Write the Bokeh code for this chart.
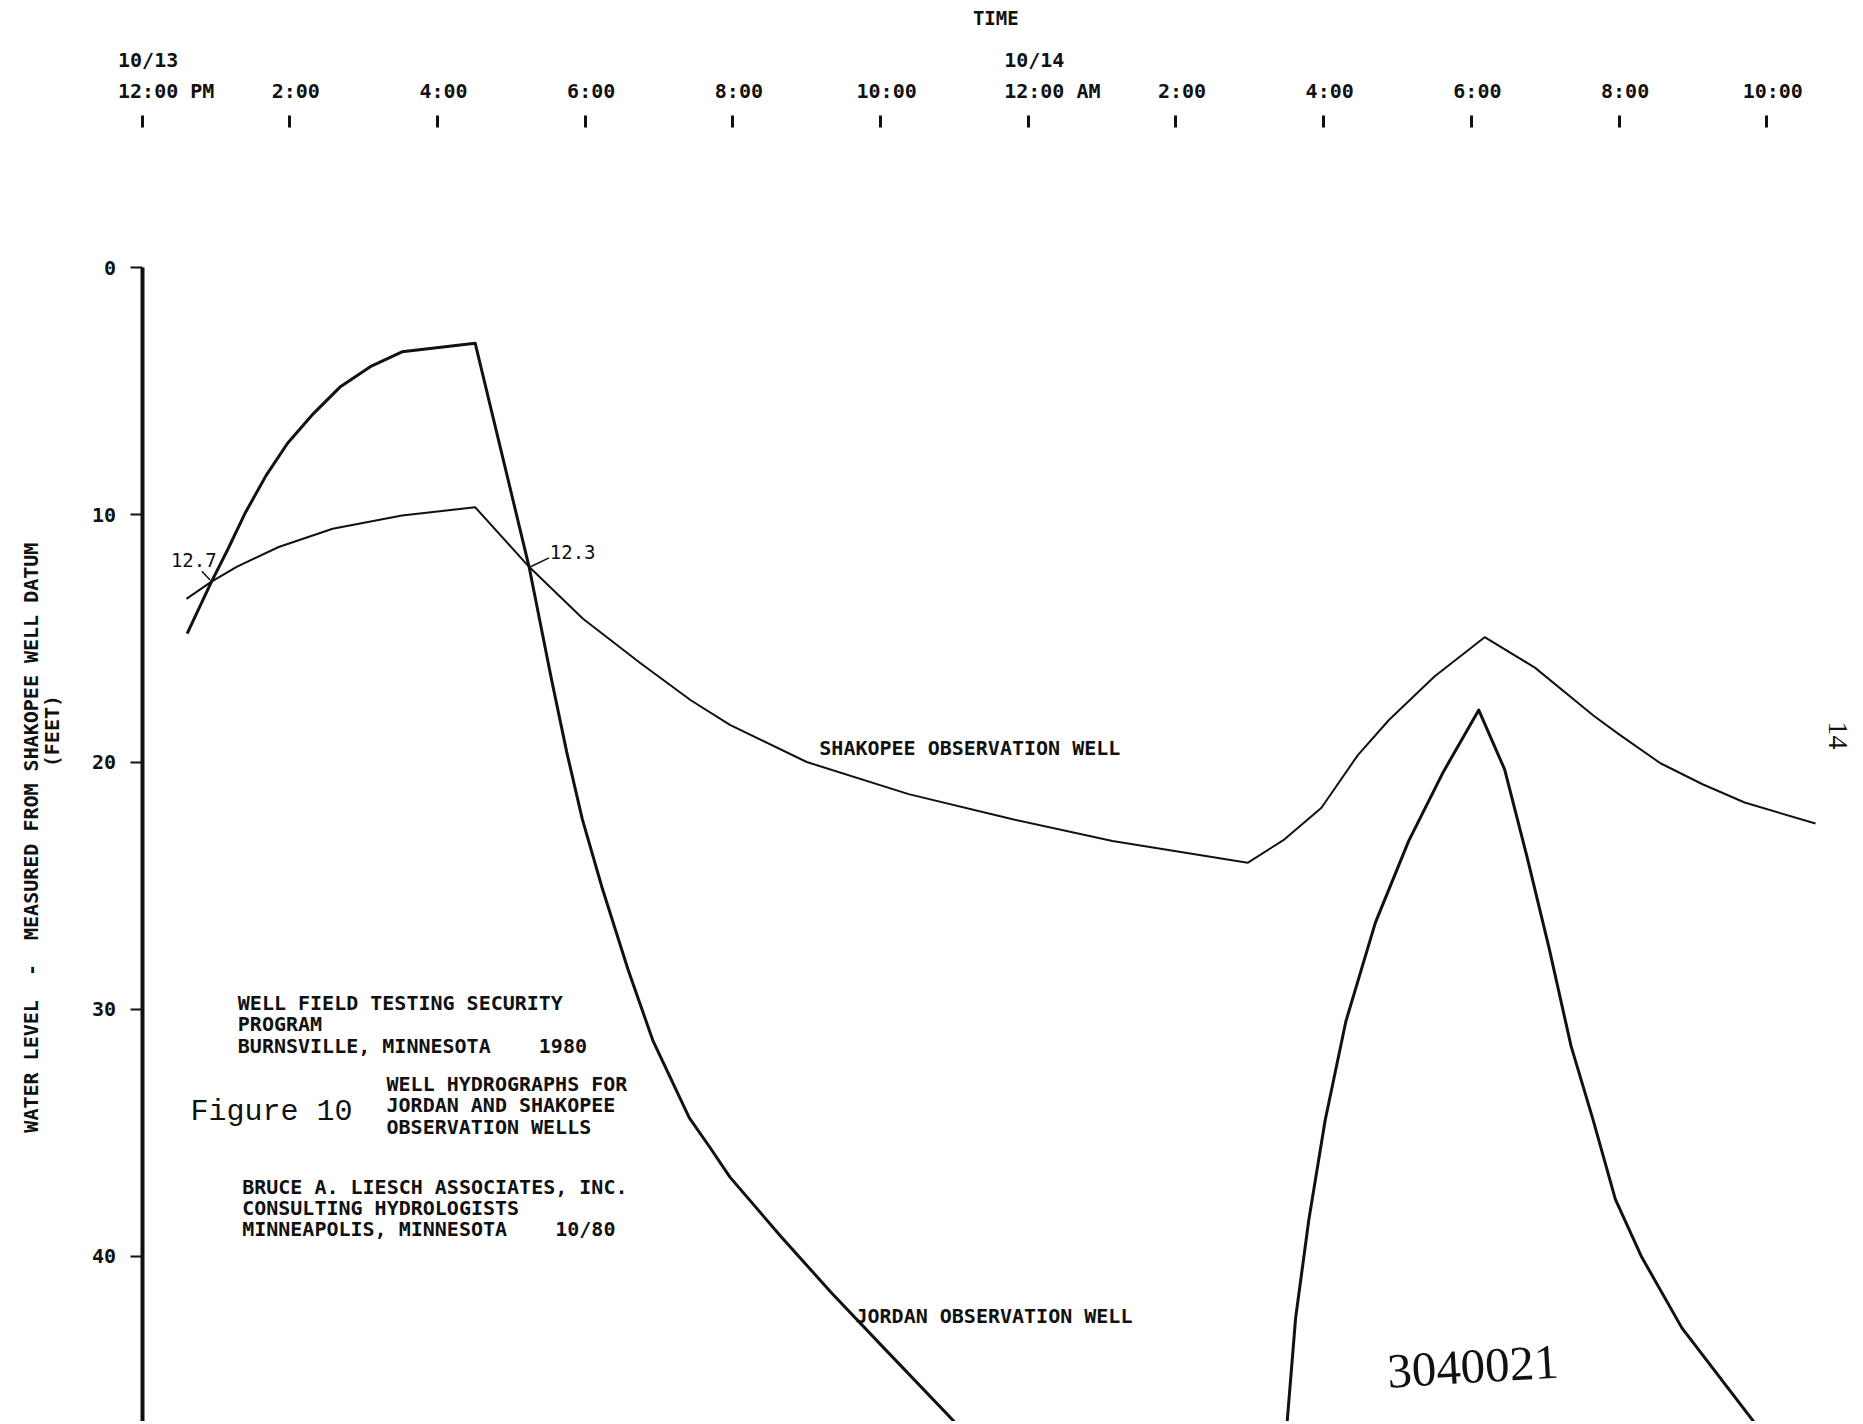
import math
from bokeh.plotting import figure
from bokeh.models import Range1d, LinearAxis, FixedTicker, Label
from bokeh.embed import file_html
from bokeh.resources import INLINE

NB = "\u00a0"

# ---------------- data ----------------
# time axis: hours after 10/13 12:00 PM
tick_hours = [0, 2, 4, 6, 8, 10, 12, 14, 16, 18, 20, 22]
tick_labels = ["10/13\n12:00 PM", "2:00", "4:00", "6:00", "8:00", "10:00",
               "10/14\n12:00 AM", "2:00", "4:00", "6:00", "8:00", "10:00"]
depth_ticks = [0, 10, 20, 30, 40]

# Jordan observation well (water level, feet below datum)
jordan_a_hours = [0.61, 0.94, 1.16, 1.40, 1.68, 1.97, 2.32, 2.69, 3.09, 3.52, 4.51,
                  5.24, 5.54, 5.75, 5.96, 6.23, 6.58, 6.92, 7.41, 7.69, 7.96, 8.65,
                  9.34, 10.04, 11.0]
jordan_a_feet = [14.8, 12.7, 11.4, 9.9, 8.4, 7.1, 5.9, 4.8, 4.0, 3.4, 3.05,
                 12.1, 16.6, 19.6, 22.3, 25.1, 28.4, 31.3, 34.4, 35.6, 36.8, 39.2,
                 41.5, 43.7, 46.7]
jordan_b_hours = [15.50, 15.62, 15.80, 16.02, 16.30, 16.70, 17.15, 17.62, 18.10,
                  18.45, 18.75, 19.05, 19.35, 19.65, 19.95, 20.30, 20.85, 21.85]
jordan_b_feet = [46.9, 42.5, 38.5, 34.5, 30.5, 26.5, 23.2, 20.4, 17.9,
                 20.3, 23.8, 27.5, 31.5, 34.5, 37.7, 40.0, 42.9, 46.8]

# Shakopee observation well
shakopee_hours = [0.60, 0.94, 1.28, 1.85, 2.58, 3.52, 4.51, 5.24, 5.97, 6.75, 7.43,
                  7.96, 9.00, 10.38, 11.76, 13.14, 14.97, 15.47, 15.97, 16.46, 16.88,
                  17.50, 18.18, 18.86, 19.66, 20.00, 20.56, 21.13, 21.70, 22.66]
shakopee_feet = [13.4, 12.7, 12.1, 11.3, 10.56, 10.02, 9.69, 12.1, 14.2, 16.0, 17.5,
                 18.5, 20.0, 21.3, 22.3, 23.2, 24.08, 23.13, 21.85, 19.73, 18.31,
                 16.54, 14.95, 16.18, 18.14, 18.88, 20.05, 20.90, 21.64, 22.49]

# labelled crossing points
cross_hours = [0.94, 5.24]
cross_feet = [12.7, 12.1]
cross_labels = ["12.7", "12.3"]


def pad(lbl):
    if "\n" in lbl:
        d, t = lbl.split("\n")
        return NB * 4 + d + NB * (len(t) - len(d)) + "\n" + NB * 4 + t
    return NB + lbl


FONT = "DejaVu Sans Mono"
INK = "#111111"

p = figure(width=1860, height=1421, output_backend="svg", toolbar_location=None,
           x_range=Range1d(-1.9174, 23.269), y_range=Range1d(46.689, -10.8175),
           x_axis_type=None, y_axis_type=None, min_border=0,
           outline_line_color=None, background_fill_color="white",
           border_fill_color="white")

# left (depth) axis
yax = LinearAxis(fixed_location=0, bounds=(0, 46.689),
                 ticker=FixedTicker(ticks=depth_ticks, minor_ticks=[]))
yax.axis_line_width = 4
yax.axis_line_color = INK
yax.major_tick_in = 0
yax.major_tick_out = 12
yax.major_tick_line_width = 2
yax.major_tick_line_color = INK
yax.minor_tick_line_color = None
yax.major_label_text_font = FONT
yax.major_label_text_font_style = "bold"
yax.major_label_text_font_size = "20px"
yax.major_label_text_color = INK
yax.major_label_standoff = 14
p.add_layout(yax, "left")

# top (time) axis
xax = LinearAxis(fixed_location=-5.68, bounds=(0, 22),
                 ticker=FixedTicker(ticks=tick_hours, minor_ticks=[]),
                 major_label_overrides={h: pad(t) for h, t in zip(tick_hours, tick_labels)})
xax.axis_line_color = None
xax.major_tick_in = 0
xax.major_tick_out = 12
xax.major_tick_line_width = 3
xax.major_tick_line_color = INK
xax.minor_tick_line_color = None
xax.major_label_text_font = FONT
xax.major_label_text_font_style = "bold"
xax.major_label_text_font_size = "20px"
xax.major_label_text_color = INK
xax.major_label_text_line_height = 1.33
xax.major_label_standoff = 12
p.add_layout(xax, "above")

# curves
p.line(jordan_a_hours, jordan_a_feet, line_width=3, line_color=INK, line_join="round")
p.line(jordan_b_hours, jordan_b_feet, line_width=3, line_color=INK, line_join="round")
p.line(shakopee_hours, shakopee_feet, line_width=2, line_color=INK, line_join="round")

# crossing labels with short leaders
lab_dx = [-0.24, 0.59]
lab_dy = [-0.87, -0.58]
lead_dx = [(-0.13, -0.02), (0.27, 0.02)]
lead_dy = [(-0.42, -0.07), (-0.36, 0.0)]
for h, f, t, dx, dy, ldx, ldy in zip(cross_hours, cross_feet, cross_labels,
                                      lab_dx, lab_dy, lead_dx, lead_dy):
    p.add_layout(Label(x=h + dx, y=f + dy, text=t, text_font=FONT,
                       text_font_size="19px", text_color=INK,
                       text_align="center", text_baseline="middle"))
    p.segment(x0=[h + ldx[0]], y0=[f + ldy[0]], x1=[h + ldx[1]], y1=[f + ldy[1]],
              line_width=1.5, line_color=INK)


def lab(x, y, text, size="20px", font=FONT, style="bold", align="left",
        baseline="middle", angle=0.0, lh=0.89):
    p.add_layout(Label(x=x, y=y, text=text, text_font=font, text_font_size=size,
                       text_font_style=style, text_color=INK, text_align=align,
                       text_baseline=baseline, angle=angle, text_line_height=lh))


lab(11.56, -10.09, "TIME", size="19px", align="center")
lab(-1.50, 23.06, "WATER LEVEL" + NB * 2 + "-" + NB * 2 + "MEASURED FROM SHAKOPEE WELL DATUM",
    align="center", angle=math.pi / 2)
lab(-1.22, 18.75, "(FEET)", align="center", angle=math.pi / 2)

lab(9.17, 19.45, "SHAKOPEE OBSERVATION WELL")
lab(9.66, 42.41, "JORDAN OBSERVATION WELL")

lab(1.296, 29.26, "WELL FIELD TESTING SECURITY\nPROGRAM\nBURNSVILLE, MINNESOTA" + NB * 4 + "1980",
    baseline="top")
lab(3.31, 32.55, "WELL HYDROGRAPHS FOR\nJORDAN AND SHAKOPEE\nOBSERVATION WELLS",
    baseline="top")
lab(1.355, 36.7, "BRUCE A. LIESCH ASSOCIATES, INC.\nCONSULTING HYDROLOGISTS\nMINNEAPOLIS, MINNESOTA" + NB * 4 + "10/80",
    baseline="top")
lab(0.655, 34.18, "Figure 10", size="30px", font="Liberation Mono", style="normal",
    baseline="alphabetic")

lab(18.02, 44.47, "3040021", size="49px", font="Liberation Serif", style="normal",
    align="center", angle=0.06)
lab(22.96, 18.93, "14", size="28px", font="Liberation Serif", style="normal",
    align="center", angle=-math.pi / 2)

open("out.html", "w").write(file_html(p, INLINE))
